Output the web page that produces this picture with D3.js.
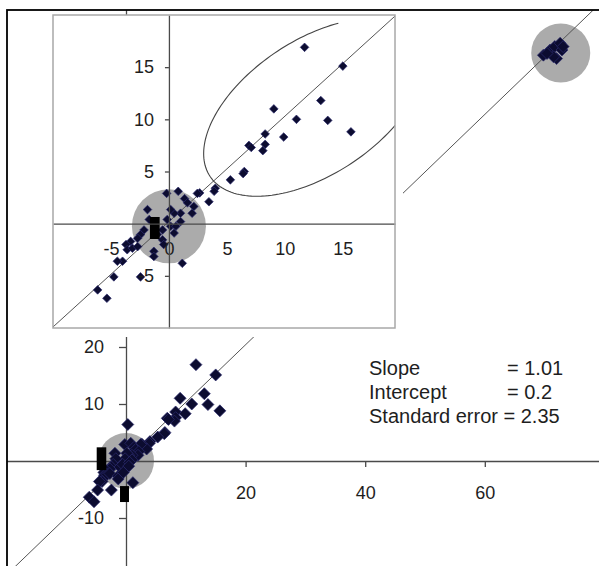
<!DOCTYPE html>
<meta charset="utf-8">
<style>
  body { margin: 0; background: #fff; }
  svg { display: block; font-family: "Liberation Sans", Arial, sans-serif; }
  .axis path, .axis line { stroke: #4a4a4a; stroke-width: 1.3; fill: none; }
  .axis text { fill: #1e1e1e; font-size: 18px; font-family: "Liberation Sans", Arial, sans-serif; }
  .fit { stroke: #555; stroke-width: 1; fill: none; }
  .ellipse { stroke: #444; stroke-width: 1.1; fill: none; }
  .halo { fill: #ababab; }
  .dot { fill: #0c0c30; stroke: #2c2c70; stroke-width: 0.7; }
  .bar { fill: #000; }
  .stats { fill: #1e1e1e; font-size: 20px; }
</style>
<body>
<script src="https://d3js.org/d3.v7.min.js"></script>
<script>
// measured points (x, y), shared by both panels
var points = [
  [11.7, 16.9], [15.0, 15.1], [13.1, 11.8], [9.05, 11.0], [11.0, 10.0], [13.7, 9.9],
  [15.7, 8.8], [8.3, 8.6], [9.9, 8.3], [8.3, 7.6], [8.1, 7.0], [6.9, 7.5], [7.1, 7.3],
  [6.5, 5.0], [6.4, 4.8], [5.3, 4.2], [4.0, 3.4], [3.9, 3.1], [2.65, 2.95], [3.45, 2.1],
  [-0.2, 2.9], [0.8, 3.1], [2.45, 2.9], [1.35, 2.4], [1.6, 2.0], [2.15, 1.65], [2.0, 1.0],
  [1.0, 1.0], [0.45, 1.0], [0.15, 1.35], [1.0, 0.2], [0.15, -0.25], [-0.15, 0.4],
  [-1.85, 1.35], [-1.7, 0.4], [-2.15, -0.6], [-2.45, -1.05], [-2.7, -1.4], [-3.3, -1.7],
  [-3.7, -2.0], [-3.6, -2.5], [-3.15, -2.35], [-2.7, -2.2], [-4.0, -3.6], [-4.45, -3.6],
  [-4.75, -5.1], [-2.45, -5.1], [-1.3, -2.65], [-1.3, -3.15], [1.15, -3.8], [-0.55, -1.55],
  [-1.0, -1.05], [-0.55, -0.6], [0.6, -0.25], [0.45, -0.9], [-0.45, -2.0],
  [-6.15, -6.35], [-5.35, -7.15]
];
var outerOnly = [[0.3, 6.4]];
var cluster = [
  [69.8, 71.2], [70.9, 72.1], [71.7, 72.7], [72.6, 73.3], [72.9, 72.1],
  [72.0, 70.6], [71.5, 70.9], [70.4, 71.5], [73.1, 72.7]
];
// [x0, x1, y0, y1]
var outerBars = [[-4.9, -3.3, 2.4, -1.6], [-1.0, 0.5, -4.4, -7.2]];
var insetBars = [[-1.64, -0.8, 0.64, -1.47]];
var outerHalos = [[0, 0], [72.7, 71.6]];
var insetHalos = [[0, -0.25]];
// ellipse: centre and two half-axis vectors, data units
var ellipseCentre = [12.54, 11.15];
var ellipseAxisU = [9.0, 6.61];
var ellipseAxisV = [3.18, -5.38];

var outerXTicks = [20, 40, 60];
var outerYTicks = [20, 10, -10];
var insetXTicks = [-5, 0, 5, 10, 15];
var insetYTicks = [15, 10, 5, -5];

var fitSlope = 1.01, fitIntercept = 0.2;
var statLabels = ["Slope", "Intercept", "Standard error"];
var statValues = ["1.01", "0.2", "2.35"];

var W = 599, H = 566;
var svg = d3.select("body").append("svg").attr("width", W).attr("height", H);
var defs = svg.append("defs");
var plain = function(d) { return String(d); };  // hyphen minus, like the original

function diamond(r) {
  return "M0," + (-r) + "L" + r + ",0L0," + r + "L" + (-r) + ",0Z";
}

// ---------- outer chart ----------
defs.append("clipPath").attr("id", "outerClip")
  .append("rect").attr("x", 7).attr("y", 10).attr("width", 600).attr("height", 560);

var x = d3.scaleLinear().domain([-20, 80]).range([6.4, 604.4]);
var y = d3.scaleLinear().domain([-20, 80]).range([575, 5]);

var outer = svg.append("g").attr("clip-path", "url(#outerClip)");

var haloR = [28, 29.5];
outer.selectAll(".halo").data(outerHalos).enter().append("circle")
  .attr("class", "halo")
  .attr("cx", function(d) { return x(d[0]); })
  .attr("cy", function(d) { return y(d[1]); })
  .attr("r", function(d, i) { return haloR[i]; });

outer.append("g").attr("class", "x axis")
  .attr("transform", "translate(0," + y(0) + ")")
  .call(d3.axisBottom(x).tickValues(outerXTicks).tickFormat(plain)
    .tickSize(6).tickSizeOuter(0).tickPadding(19));

outer.append("g").attr("class", "y axis")
  .attr("transform", "translate(" + x(0) + ",0)")
  .call(d3.axisLeft(y).tickValues(outerYTicks).tickFormat(plain)
    .tickSize(7).tickSizeOuter(0).tickPadding(15));

var fitLine = d3.line()
  .x(function(d) { return x(d); })
  .y(function(d) { return y(fitSlope * d + fitIntercept); });
outer.append("path").attr("class", "fit").attr("d", fitLine([-20, 80]));

outer.selectAll(".dot").data(points.concat(outerOnly, cluster)).enter().append("path")
  .attr("class", "dot")
  .attr("transform", function(d) { return "translate(" + x(d[0]) + "," + y(d[1]) + ")"; })
  .attr("d", diamond(6));

outer.selectAll(".bar").data(outerBars).enter().append("rect")
  .attr("class", "bar")
  .attr("x", function(d) { return x(d[0]); })
  .attr("width", function(d) { return x(d[1]) - x(d[0]); })
  .attr("y", function(d) { return y(d[2]); })
  .attr("height", function(d) { return y(d[3]) - y(d[2]); });

// stats text
var stats = svg.append("g").attr("class", "stats");
statLabels.forEach(function(lab, i) {
  if (i < 2) {
    stats.append("text").attr("x", 369).attr("y", 375 + i * 24).text(lab);
    stats.append("text").attr("x", 507).attr("y", 375 + i * 24).text("= " + statValues[i]);
  } else {
    stats.append("text").attr("x", 369).attr("y", 375 + i * 24).text(lab + " = " + statValues[i]);
  }
});

// ---------- inset chart ----------
var inset = svg.append("g");
inset.append("rect").attr("x", 45).attr("y", 15).attr("width", 358).attr("height", 322)
  .attr("fill", "#fff");

var xi = d3.scaleLinear().domain([-10, 19.5]).range([53, 395]);
var yi = d3.scaleLinear().domain([-10, 20]).range([328, 15]);

defs.append("clipPath").attr("id", "insetClip")
  .append("rect").attr("x", 53).attr("y", 15).attr("width", 342).attr("height", 313);

var plot = inset.append("g").attr("clip-path", "url(#insetClip)");

plot.selectAll(".halo").data(insetHalos).enter().append("circle")
  .attr("class", "halo")
  .attr("cx", function(d) { return xi(d[0]); })
  .attr("cy", function(d) { return yi(d[1]); })
  .attr("r", 37);

inset.append("g").attr("class", "x axis")
  .attr("transform", "translate(0," + yi(0) + ")")
  .call(d3.axisBottom(xi).tickValues(insetXTicks).tickFormat(plain).tickSize(0).tickPadding(19));

inset.append("g").attr("class", "y axis")
  .attr("transform", "translate(" + xi(0) + ",0)")
  .call(d3.axisLeft(yi).tickValues(insetYTicks).tickFormat(plain)
    .tickSize(4).tickSizeOuter(0).tickPadding(11));

var insetFit = d3.line()
  .x(function(d) { return xi(d); })
  .y(function(d) { return yi(fitSlope * d + fitIntercept); });
plot.append("path").attr("class", "fit").attr("d", insetFit([-10, 20]));

var arc = d3.range(50, 303, 2).map(function(deg) {
  var t = deg * Math.PI / 180;
  return [
    ellipseCentre[0] + Math.cos(t) * ellipseAxisU[0] + Math.sin(t) * ellipseAxisV[0],
    ellipseCentre[1] + Math.cos(t) * ellipseAxisU[1] + Math.sin(t) * ellipseAxisV[1]
  ];
});
plot.append("path").attr("class", "ellipse")
  .attr("d", d3.line().x(function(d) { return xi(d[0]); }).y(function(d) { return yi(d[1]); })(arc));

plot.selectAll(".dot").data(points).enter().append("path")
  .attr("class", "dot")
  .attr("transform", function(d) { return "translate(" + xi(d[0]) + "," + yi(d[1]) + ")"; })
  .attr("d", diamond(4.3));

plot.selectAll(".bar").data(insetBars).enter().append("rect")
  .attr("class", "bar")
  .attr("x", function(d) { return xi(d[0]); })
  .attr("width", function(d) { return xi(d[1]) - xi(d[0]); })
  .attr("y", function(d) { return yi(d[2]); })
  .attr("height", function(d) { return yi(d[3]) - yi(d[2]); });

inset.append("rect").attr("x", 53).attr("y", 15).attr("width", 342).attr("height", 313)
  .attr("fill", "none").attr("stroke", "#a8a8a8").attr("stroke-width", 1.5);

// outer frame
svg.append("rect").attr("x", 7).attr("y", 10).attr("width", 600).attr("height", 570)
  .attr("fill", "none").attr("stroke", "#000").attr("stroke-width", 1.8);
</script>
